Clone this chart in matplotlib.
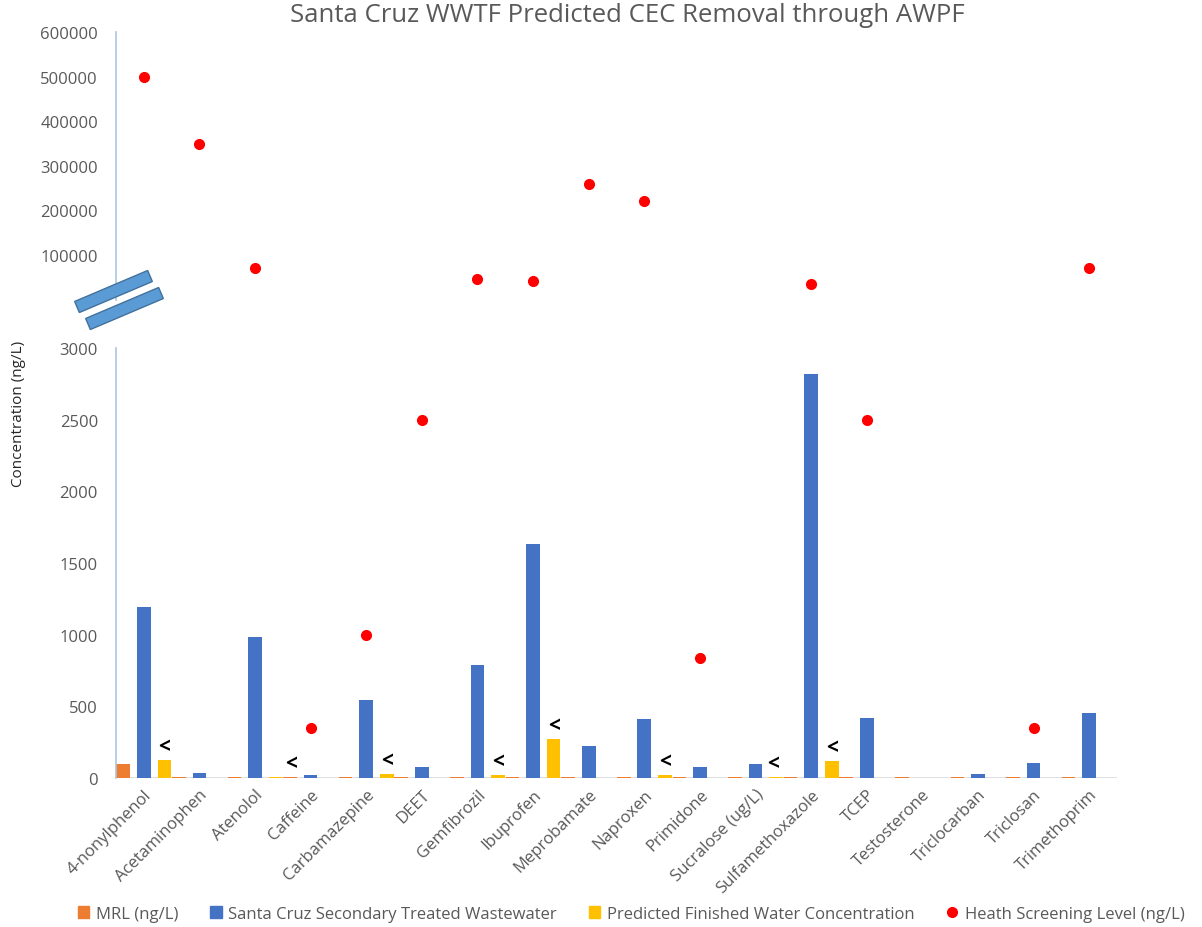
import numpy as np
import matplotlib
matplotlib.use("Agg")
import matplotlib.pyplot as plt
from matplotlib.patches import Patch, Polygon
from matplotlib.lines import Line2D

# chart data (ng/L)
compounds = ["4-nonylphenol", "Acetaminophen", "Atenolol", "Caffeine", "Carbamazepine",
             "DEET", "Gemfibrozil", "Ibuprofen", "Meprobamate", "Naproxen", "Primidone",
             "Sucralose (ug/L)", "Sulfamethoxazole", "TCEP", "Testosterone", "Triclocarban",
             "Triclosan", "Trimethoprim"]
mrl = [100, 10, 10, 10, 10, 10, 10, 10, 10, 10, 10, 10, 10, 10, 10, 10, 10, 10]
secondary = [1195, 35, 980, 20, 545, 75, 785, 1630, 222, 410, 75, 100, 2820, 420, 0, 28, 105, 455]
predicted = [128, 0, 5, 0, 30, 0, 20, 270, 0, 20, 0, 8, 116, 0, 0, 0, 0, 0]
screening = [500000, 350000, 70000, 350, 1000, 2500, 46000, 42000, 260000, 220000, 840,
             np.nan, 36000, 2500, np.nan, np.nan, 350, 70000]
# "<" flags: category index and where the mark sits relative to the category
less_than_idx = [0, 2, 4, 6, 7, 9, 11, 12]
less_than_off = [0.37, 0.64, 0.37, 0.37, 0.37, 0.37, 0.32, 0.37]

series_names = ["MRL (ng/L)", "Santa Cruz Secondary Treated Wastewater",
                "Predicted Finished Water Concentration", "Heath Screening Level (ng/L)"]

c_mrl = "#ED7D31"
c_sec = "#4472C4"
c_pred = "#FFC000"
c_hsl = "#FF0000"
grey = "#595959"
spine_col = "#A9C6E3"

plt.rcParams["font.family"] = ["Open Sans", "DejaVu Sans"]

fig = plt.figure(figsize=(12.02, 9.28), dpi=100)
ax_lo = fig.add_axes([0.0965, 0.1606, 0.8328, 0.4634])
ax_hi = fig.add_axes([0.0965, 0.6761, 0.8328, 0.2883])

x = np.arange(len(compounds))
w = 0.245
scr = np.array(screening, dtype=float)

# lower panel: bars plus low screening levels
ax_lo.bar(x - 0.37, mrl, w, color=c_mrl)
ax_lo.bar(x, secondary, w, color=c_sec)
ax_lo.bar(x + 0.37, predicted, w, color=c_pred)
low = scr <= 3000
ax_lo.plot(x[low], scr[low], "o", color=c_hsl, ms=7, ls="none")
for i, off in zip(less_than_idx, less_than_off):
    ax_lo.annotate("<", (i + off, predicted[i]), xytext=(0, 2), textcoords="offset points",
                   ha="center", va="bottom", fontsize=15, fontweight="bold", color="black")

ax_lo.set_xlim(-0.5, len(compounds) - 0.5)
ax_lo.set_ylim(0, 3000)
ax_lo.set_yticks(range(0, 3001, 500))
ax_lo.set_xticks(x)
ax_lo.set_xticklabels(compounds, rotation=45, ha="right", rotation_mode="anchor")

# upper panel: high screening levels
high = scr > 3000
ax_hi.plot(x[high], scr[high], "o", color=c_hsl, ms=7, ls="none")
ax_hi.set_xlim(-0.5, len(compounds) - 0.5)
ax_hi.set_ylim(0, 600000)
ax_hi.set_yticks(range(100000, 600001, 100000))
ax_hi.set_xticks([])

for ax in (ax_lo, ax_hi):
    for s in ("top", "right", "bottom"):
        ax.spines[s].set_visible(False)
    ax.spines["left"].set_color(spine_col)
    ax.spines["left"].set_linewidth(1.2)
    ax.tick_params(axis="y", length=0, pad=13, labelsize=12, labelcolor=grey)
    ax.tick_params(axis="x", length=0, pad=6, labelsize=12, labelcolor=grey)
    ax.set_facecolor("none")
ax_lo.axhline(0, color="#D9D9D9", lw=1.2, zorder=0.5)

# axis break marks
for (x0, y0) in [((77, 308)), ((88, 325))]:
    dx, dy = 73, -31
    n = np.hypot(dx, dy)
    px, py = -dy / n * 6, dx / n * 6
    pts = [(x0 - px, y0 - py), (x0 + dx - px, y0 + dy - py),
           (x0 + dx + px, y0 + dy + py), (x0 + px, y0 + py)]
    pts = [(a / 1202, 1 - b / 928) for a, b in pts]
    fig.patches.append(Polygon(pts, closed=True, transform=fig.transFigure,
                               facecolor="#5B9BD5", edgecolor="#41719C", lw=1))

fig.text(0.522, 0.983, "Santa Cruz WWTF Predicted CEC Removal through AWPF",
         ha="center", va="center", fontsize=18.5, color=grey)
fig.text(0.015, 1 - 414 / 928, "Concentration (ng/L)", rotation=90,
         ha="center", va="center", fontsize=11, color="#262626")

handles = [Patch(color=c_mrl), Patch(color=c_sec), Patch(color=c_pred),
           Line2D([], [], marker="o", color=c_hsl, ls="none", ms=7)]
fig.legend(handles, series_names, loc="center", bbox_to_anchor=(0.525, 0.014), ncol=4,
           frameon=False, fontsize=12, labelcolor=grey, handlelength=0.7,
           handleheight=0.7, handletextpad=0.4, columnspacing=1.9)

fig.savefig("out.png", dpi=100)
